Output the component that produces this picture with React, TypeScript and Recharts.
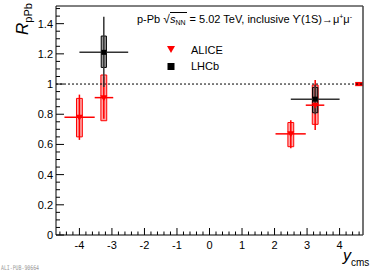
import { ComposedChart, Scatter, XAxis, YAxis, ErrorBar, ReferenceArea, ReferenceLine, Legend } from "recharts"

// rapidity bins and R_pPb values
const aliceY = [-4.0, -3.25, 2.5, 3.25]
const aliceBinLo = [-4.46, -3.53, 2.03, 2.96]
const aliceBinHi = [-3.53, -2.96, 2.96, 3.53]
const aliceR = [0.78, 0.91, 0.67, 0.86]
const aliceStatLo = [0.63, 0.77, 0.575, 0.695]
const aliceStatHi = [0.93, 1.05, 0.76, 1.026]
const aliceSysLo = [0.65, 0.757, 0.585, 0.733]
const aliceSysHi = [0.905, 1.06, 0.745, 0.993]
const aliceGlobal = [0.986, 1.014]

const lhcbY = [-3.25, 3.25]
const lhcbBinLo = [-4.0, 2.5]
const lhcbBinHi = [-2.5, 4.0]
const lhcbR = [1.21, 0.9]
const lhcbStatLo = [0.98, 0.8]
const lhcbStatHi = [1.445, 0.995]
const lhcbSysLo = [1.11, 0.81]
const lhcbSysHi = [1.318, 0.978]

const xMajor = [-4, -3, -2, -1, 0, 1, 2, 3, 4]
const yMajor = [0, 0.2, 0.4, 0.6, 0.8, 1, 1.2, 1.4]

const X_DOMAIN: [number, number] = [-4.72, 4.72]
const Y_DOMAIN: [number, number] = [0, 1.517]
const ALICE_BOX = 0.09
const LHCB_BOX = 0.08
const FONT = "'Liberation Sans', Arial, sans-serif"

const alice = aliceY.map((x, i) => ({
  x,
  r: aliceR[i],
  ex: [x - aliceBinLo[i], aliceBinHi[i] - x],
  ey: [aliceR[i] - aliceStatLo[i], aliceStatHi[i] - aliceR[i]],
}))

const lhcb = lhcbY.map((x, i) => ({
  x,
  r: lhcbR[i],
  ex: [x - lhcbBinLo[i], lhcbBinHi[i] - x],
  ey: [lhcbR[i] - lhcbStatLo[i], lhcbStatHi[i] - lhcbR[i]],
}))

const xTicks: number[] = []
for (let i = -23; i <= 23; i++) xTicks.push(i / 5)
const yTicks: number[] = []
for (let i = 0; i <= 30; i++) yTicks.push(i / 20)

const isMajor = (v: number, list: number[]) => list.some((m) => Math.abs(m - v) < 1e-6)

function XTick(props: any) {
  const { x, y, payload } = props
  const major = isMajor(payload.value, xMajor)
  return (
    <g>
      <line x1={x} x2={x} y1={y} y2={y - (major ? 7 : 3.5)} stroke="#000" />
      {major && (
        <text x={x} y={y + 14} textAnchor="middle" fontSize={11} fontFamily={FONT} fill="#000">
          {Math.round(payload.value)}
        </text>
      )}
    </g>
  )
}

function YTick(props: any) {
  const { x, y, payload } = props
  const major = isMajor(payload.value, yMajor)
  return (
    <g>
      <line x1={x} x2={x + (major ? 8 : 4)} y1={y} y2={y} stroke="#000" />
      {major && (
        <text x={x - 3} y={y + 4} textAnchor="end" fontSize={11} fontFamily={FONT} fill="#000">
          {String(Math.round(payload.value * 10) / 10)}
        </text>
      )}
    </g>
  )
}

const triangle = (p: any) => (
  <polygon points={`${p.cx - 3.5},${p.cy - 2.5} ${p.cx + 3.5},${p.cy - 2.5} ${p.cx},${p.cy + 3.5}`} fill="#ff0000" />
)
const square = (p: any) => <rect x={p.cx - 2.5} y={p.cy - 2.5} width={5} height={5} fill="#000" />

function LegendBox(props: any) {
  const items = props.payload || []
  return (
    <div style={{ fontFamily: FONT, fontSize: 11 }}>
      {items.map((it: any) => (
        <div key={it.value} style={{ display: "flex", alignItems: "center", height: 16 }}>
          <svg width={27} height={16}>
            {it.value === "ALICE" ? (
              <polygon points="3,4 11,4 7,11" fill="#ff0000" />
            ) : (
              <rect x={3.5} y={5} width={7} height={7} fill="#000" />
            )}
          </svg>
          <span>{it.value}</span>
        </div>
      ))}
    </div>
  )
}

export default function App() {
  return (
    <div style={{ position: "absolute", left: 0, top: 0, width: 374, height: 271, background: "#fff" }}>
      <ComposedChart width={374} height={271} margin={{ top: 5, right: 10, left: 6, bottom: 6 }}>
        <XAxis
          dataKey="x"
          type="number"
          domain={X_DOMAIN}
          ticks={xTicks}
          interval={0}
          tickLine={false}
          tickSize={0}
          tickMargin={0}
          height={30}
          tick={<XTick />}
          axisLine={{ stroke: "#000" }}
          allowDataOverflow
        />
        <XAxis xAxisId="top" orientation="top" type="number" domain={X_DOMAIN} tick={false} tickLine={false} height={1} axisLine={{ stroke: "#000" }} />
        <YAxis
          type="number"
          domain={Y_DOMAIN}
          ticks={yTicks}
          interval={0}
          tickLine={false}
          tickSize={0}
          tickMargin={0}
          width={50}
          tick={<YTick />}
          axisLine={{ stroke: "#000" }}
          allowDataOverflow
        />
        <YAxis yAxisId="right" orientation="right" type="number" domain={Y_DOMAIN} tick={false} tickLine={false} width={1} axisLine={{ stroke: "#444", strokeWidth: 1.5 }} />
        <ReferenceLine y={1} stroke="#000" strokeDasharray="2 2" />
        <ReferenceArea x1={4.48} x2={X_DOMAIN[1]} y1={aliceGlobal[0]} y2={aliceGlobal[1]} fill="#ff0000" fillOpacity={1} stroke="none" ifOverflow="visible" />
        {aliceY.map((x, i) => (
          <ReferenceArea
            key={"as" + i}
            x1={x - ALICE_BOX}
            x2={x + ALICE_BOX}
            y1={aliceSysLo[i]}
            y2={aliceSysHi[i]}
            fill="#ff0000"
            fillOpacity={0.35}
            stroke="#ff0000"
            strokeWidth={1}
          />
        ))}
        {lhcbY.map((x, i) => (
          <ReferenceArea
            key={"ls" + i}
            x1={x - LHCB_BOX}
            x2={x + LHCB_BOX}
            y1={lhcbSysLo[i]}
            y2={lhcbSysHi[i]}
            fill="#555"
            fillOpacity={0.6}
            stroke="#000"
            strokeWidth={1}
          />
        ))}
        <Scatter name="ALICE" data={alice} dataKey="r" fill="#ff0000" shape={triangle} isAnimationActive={false}>
          <ErrorBar dataKey="ey" direction="y" width={0} stroke="#ff0000" strokeWidth={1.5} />
          <ErrorBar dataKey="ex" direction="x" width={0} stroke="#ff0000" strokeWidth={1.5} />
        </Scatter>
        <Scatter name="LHCb" data={lhcb} dataKey="r" fill="#000" shape={square} isAnimationActive={false}>
          <ErrorBar dataKey="ey" direction="y" width={0} stroke="#333" strokeWidth={1.5} />
          <ErrorBar dataKey="ex" direction="x" width={0} stroke="#333" strokeWidth={1.5} />
        </Scatter>
        <Legend
          layout="vertical"
          align="center"
          verticalAlign="middle"
          content={<LegendBox />}
          wrapperStyle={{ left: 164, top: 42, width: 80, height: 34 }}
        />
      </ComposedChart>
      <div
        style={{
          position: "absolute",
          left: 137,
          top: 10,
          fontFamily: FONT,
          fontSize: 11,
          whiteSpace: "nowrap",
          lineHeight: "14px",
        }}
      >
        p-Pb <span style={{ fontSize: 12 }}>√</span>
        <span style={{ borderTop: "1px solid #000", paddingRight: 1 }}>
          <i>s</i>
          <sub style={{ fontSize: 7, verticalAlign: -2 }}>NN</sub>
        </span>{" "}
        = 5.02 TeV, inclusive ϒ(1S)→μ<sup style={{ fontSize: 7, verticalAlign: 4 }}>+</sup>μ
        <sup style={{ fontSize: 7, verticalAlign: 4 }}>-</sup>
      </div>
      <svg width={374} height={271} style={{ position: "absolute", left: 0, top: 0, pointerEvents: "none" }}>
        <text transform="translate(28,35) rotate(-90)" fontFamily={FONT} fill="#000">
          <tspan fontStyle="italic" fontSize={17}>R</tspan>
          <tspan fontSize={11} dy={4}>pPb</tspan>
        </text>
        <text x={343} y={261} fontFamily={FONT} fill="#000">
          <tspan fontStyle="italic" fontSize={16}>y</tspan>
          <tspan fontSize={10} dy={5}>cms</tspan>
        </text>
        <text x={1} y={270} fontFamily="'DejaVu Sans Mono', monospace" fontSize={6.5} fill="#999" textLength={38} lengthAdjust="spacingAndGlyphs">
          ALI-PUB-90664
        </text>
      </svg>
    </div>
  )
}
